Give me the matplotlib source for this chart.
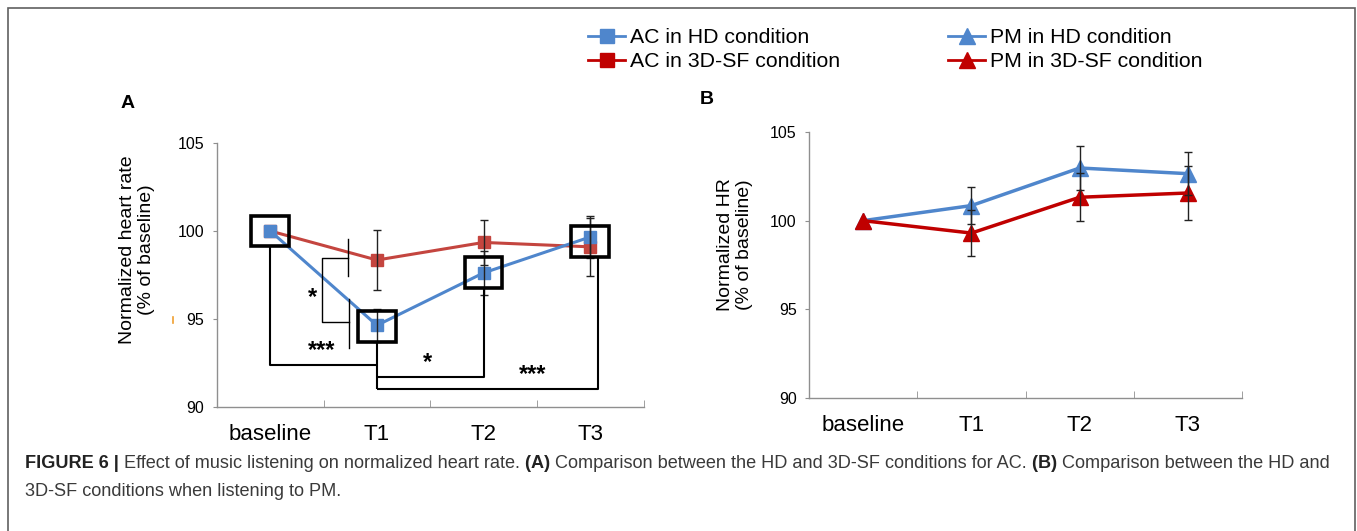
import numpy as np
import matplotlib
matplotlib.use("Agg")
import matplotlib.pyplot as plt
from matplotlib.patches import Rectangle
from matplotlib.lines import Line2D
from matplotlib.transforms import IdentityTransform

plt.rcParams['font.family'] = ['Liberation Sans', 'DejaVu Sans']

# x categories
timepoints = ["baseline", "T1", "T2", "T3"]

# panel A - AC, normalized heart rate (% of baseline) and error bars
ac_hd = [100.0, 94.64, 97.62, 99.66]
ac_hd_err = [0.0, 0.95, 1.25, 1.20]
ac_sf = [100.0, 98.35, 99.35, 99.10]
ac_sf_err = [0.0, 1.72, 1.30, 1.65]

# panel B - PM
pm_hd = [100.0, 100.85, 102.97, 102.65]
pm_hd_err = [0.0, 1.05, 1.22, 1.20]
pm_sf = [100.0, 99.30, 101.32, 101.56]
pm_sf_err = [0.0, 1.30, 1.35, 1.50]

# highlighted points in A (box centres)
box_y = [100.0, 94.55, 97.65, 99.4]

BLUE = '#4f86cc'
RED_A = '#c4453f'
RED_B = '#c00000'
GREY = '#8f8f8f'

W, H = 1357, 531
fig = plt.figure(figsize=(W / 100, H / 100), dpi=100)


def px_box(x0, y0, x1, y1):
    # image pixel box -> figure fraction [left, bottom, width, height]
    return [x0 / W, 1 - y1 / H, (x1 - x0) / W, (y1 - y0) / H]


def style_axes(ax):
    x = np.arange(len(timepoints))
    ax.set_xlim(-0.5, len(timepoints) - 0.5)
    ax.set_ylim(90, 105)
    ax.set_yticks([90, 95, 100, 105])
    ax.set_xticks(x)
    ax.set_xticklabels(timepoints, fontsize=16)
    ax.set_xticks(x + 0.5, minor=True)
    ax.tick_params(axis='x', which='major', length=0, pad=12)
    ax.tick_params(axis='x', which='minor', direction='in', length=5, color=GREY)
    ax.tick_params(axis='y', labelsize=11.5, length=3, color=GREY, pad=6)
    for s in ['top', 'right']:
        ax.spines[s].set_visible(False)
    for s in ['left', 'bottom']:
        ax.spines[s].set_color(GREY)
        ax.spines[s].set_linewidth(1)


x = np.arange(len(timepoints))

# ---------------- panel A ----------------
axA = fig.add_axes(px_box(217, 143, 643.5, 407))
style_axes(axA)
axA.plot(x, ac_sf, color=RED_A, lw=2.2, marker='s', ms=8.5, zorder=3)
axA.plot(x, ac_hd, color=BLUE, lw=2.2, marker='s', ms=8.5, zorder=3)
axA.errorbar(x[1:], ac_sf[1:], yerr=ac_sf_err[1:], fmt='none', ecolor='#222222',
             elinewidth=1, capsize=3, capthick=1, zorder=4)
axA.errorbar(x[1:], ac_hd[1:], yerr=ac_hd_err[1:], fmt='none', ecolor='#222222',
             elinewidth=1, capsize=3, capthick=1, zorder=4)

bw, bh = 0.355, 1.76
for xi, yi in zip(x, box_y):
    axA.add_patch(Rectangle((xi - bw / 2, yi - bh / 2), bw, bh, fill=False,
                            edgecolor='black', lw=2.6, zorder=5))

# significance brackets (baseline-T1, T1-T2, T1-T3)
k = dict(color='black', lw=1.5, zorder=5, solid_capstyle='butt')
lvl1, lvl2, lvl3 = 92.4, 91.7, 91.04
axA.plot([0, 0, 1], [box_y[0] - bh / 2, lvl1, lvl1], **k)
axA.plot([1, 1], [box_y[1] - bh / 2, lvl3], **k)
axA.plot([1, 2, 2], [lvl2, lvl2, box_y[2] - bh / 2], **k)
axA.plot([1, 3.07, 3.07], [lvl3, lvl3, box_y[3] - bh / 2], **k)
axA.text(0.484, lvl1 + 0.15, '***', ha='center', va='bottom', fontsize=17, fontweight='bold')
axA.text(1.475, lvl2 + 0.15, '*', ha='center', va='bottom', fontsize=17, fontweight='bold')
axA.text(2.46, lvl3 + 0.15, '***', ha='center', va='bottom', fontsize=17, fontweight='bold')

# HD vs 3D-SF at T1
k2 = dict(color='black', lw=1.0, zorder=5)
axA.plot([0.731, 0.731], [97.42, 99.57], **k2)
axA.plot([0.740, 0.740], [93.35, 96.16], **k2)
axA.plot([0.731, 0.484, 0.484, 0.740], [98.49, 98.49, 94.83, 94.83], **k2)
axA.text(0.40, 96.2, '*', ha='center', va='center', fontsize=17, fontweight='bold')

# ---------------- panel B ----------------
axB = fig.add_axes(px_box(809, 132, 1242, 398))
style_axes(axB)
axB.plot(x, pm_hd, color=BLUE, lw=2.5, marker='^', ms=12, zorder=3)
axB.plot(x, pm_sf, color=RED_B, lw=2.5, marker='^', ms=12, zorder=3)
axB.errorbar(x[1:], pm_hd[1:], yerr=pm_hd_err[1:], fmt='none', ecolor='#222222',
             elinewidth=1, capsize=3, capthick=1, zorder=4)
axB.errorbar(x[1:], pm_sf[1:], yerr=pm_sf_err[1:], fmt='none', ecolor='#222222',
             elinewidth=1, capsize=3, capthick=1, zorder=4)

# axis labels
fig.text(137 / W, 1 - 250 / H, 'Normalized heart rate\n(% of baseline)', rotation=90,
         ha='center', va='center', fontsize=14, linespacing=1.15, multialignment='center')
fig.text(735 / W, 1 - 245 / H, 'Normalized HR\n(% of baseline)', rotation=90,
         ha='center', va='center', fontsize=14, linespacing=1.15, multialignment='center')
fig.add_artist(Line2D([172.7 / W] * 2, [1 - 317 / H, 1 - 323 / H], color='#f0a030', lw=1.2))

fig.text(128 / W, 1 - 103 / H, 'A', fontsize=14, fontweight='bold', ha='center', va='center')
fig.text(707 / W, 1 - 100 / H, 'B', fontsize=14, fontweight='bold', ha='center', va='center')

# legends
h_ac = [Line2D([], [], color=BLUE, lw=2, marker='s', ms=10),
        Line2D([], [], color=RED_B, lw=2, marker='s', ms=10)]
h_pm = [Line2D([], [], color=BLUE, lw=2, marker='^', ms=12),
        Line2D([], [], color=RED_B, lw=2, marker='^', ms=12)]
leg_kw = dict(loc='upper left', frameon=False, fontsize=15.3, handlelength=1.75,
              handletextpad=0.24, borderpad=0, borderaxespad=0, labelspacing=0.25)
fig.legend(h_ac, ['AC in HD condition', 'AC in 3D-SF condition'],
           bbox_to_anchor=(588 / W, 1 - 28 / H), **leg_kw)
fig.legend(h_pm, ['PM in HD condition', 'PM in 3D-SF condition'],
           bbox_to_anchor=(948 / W, 1 - 28 / H), **leg_kw)

# outer frame
fig.add_artist(Rectangle((8 / W, -0.05), (1355 - 8) / W, 1.05 - 8 / H, fill=False,
                         edgecolor='#606060', lw=1.2, transform=fig.transFigure))

# caption, drawn piece by piece to mix bold and regular
renderer = fig.canvas.get_renderer()


def caption_line(x0, y_img, pieces, size=13.1):
    xpos = x0
    for txt, weight, col in pieces:
        t = fig.text(xpos, H - y_img, txt, fontsize=size, fontweight=weight, color=col,
                     va='center', ha='left', transform=IdentityTransform())
        xpos = t.get_window_extent(renderer).x1


dark = '#222222'
body = '#3a3a3a'
caption_line(25, 463, [("FIGURE 6 |", 'bold', dark),
                       (" Effect of music listening on normalized heart rate.", 'normal', body),
                       (" (A)", 'bold', dark),
                       (" Comparison between the HD and 3D-SF conditions for AC.", 'normal', body),
                       (" (B)", 'bold', dark),
                       (" Comparison between the HD and", 'normal', body)])
caption_line(25, 491, [("3D-SF conditions when listening to PM.", 'normal', body)])

fig.savefig('out.png', dpi=100)
